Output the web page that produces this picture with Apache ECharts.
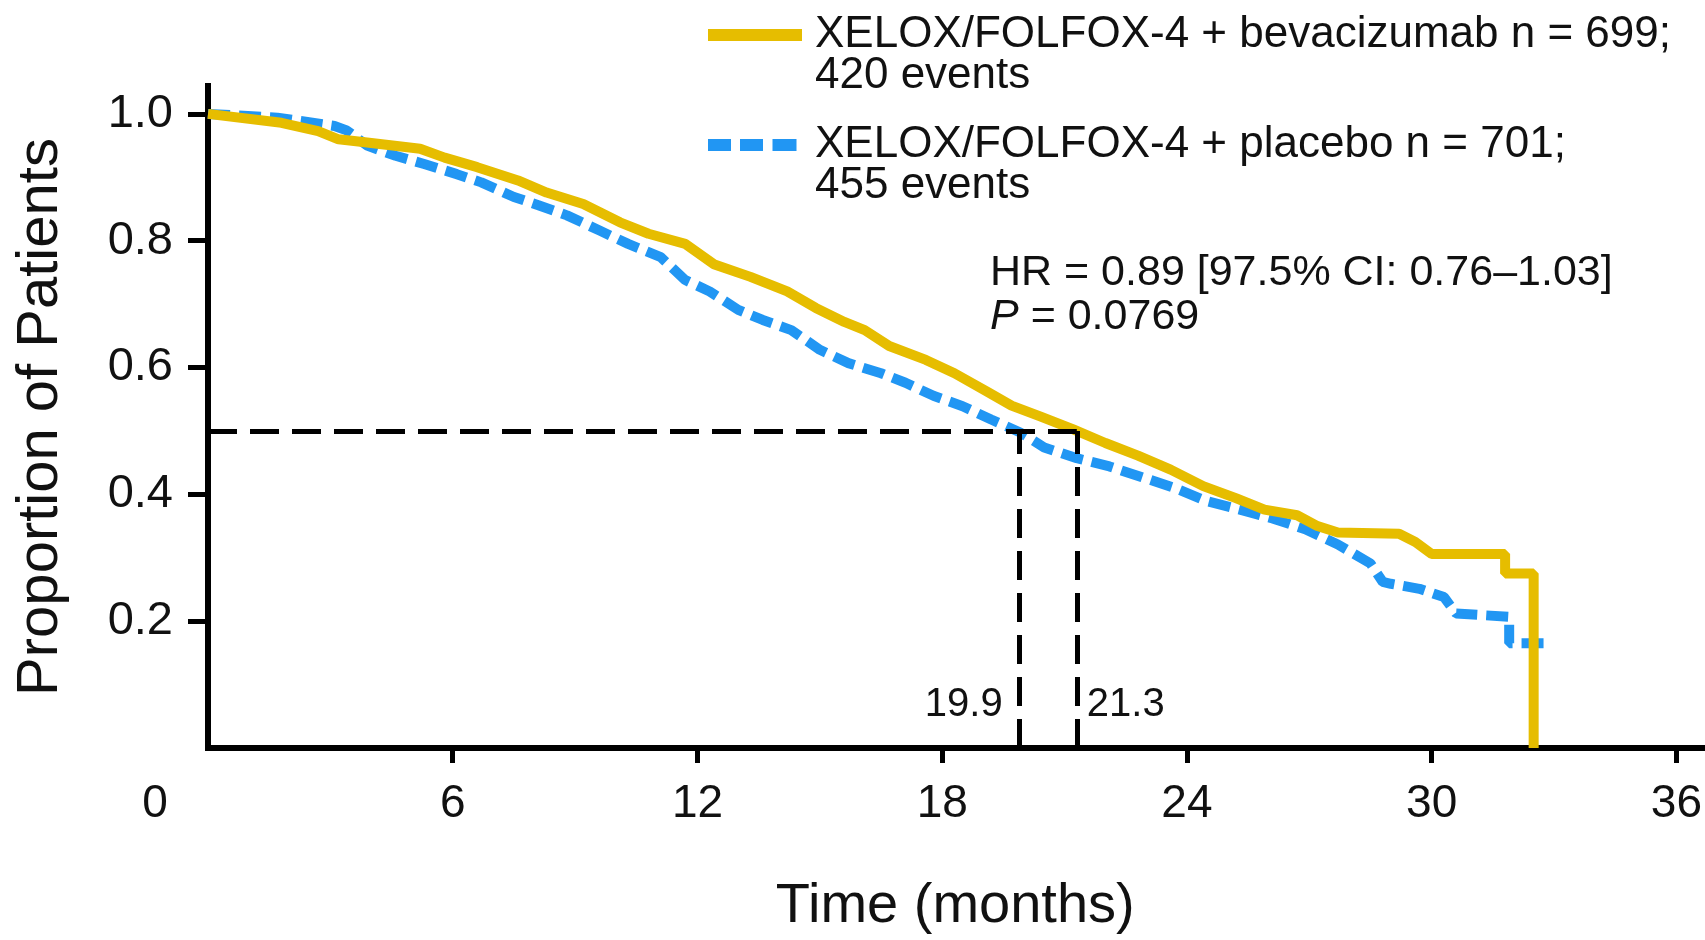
<!DOCTYPE html>
<html>
<head>
<meta charset="utf-8">
<title>XELOX/FOLFOX-4 + bevacizumab vs placebo</title>
<script src="https://cdn.jsdelivr.net/npm/echarts@6/dist/echarts.min.js"></script>
<style>
  html, body { margin: 0; padding: 0; background: #fff; }
  #chart { width: 1705px; height: 940px; }
</style>
</head>
<body>
<div id="chart"></div>
<script>
// values (months, proportion)
const seriesNames = ['XELOX/FOLFOX-4 + bevacizumab n = 699;', 'XELOX/FOLFOX-4 + placebo n = 701;'];
const seriesEvents = ['420 events', '455 events'];

const bevaTime = [0, 1.8, 2.7, 3.2, 3.9, 5.2, 5.8, 6.6, 7.6, 8.3, 9.2, 10.1, 10.8, 11.7, 12.4, 13.3, 14.2, 14.9, 15.6, 16.1,
  16.7, 17.6, 18.3, 19.1, 19.7, 20.4, 21.2, 22.0, 22.8, 23.6, 24.4, 25.2, 25.9, 26.7, 27.2, 27.7, 29.2, 29.6, 30.0,
  31.8, 31.8, 32.5, 32.5];
const bevaSurv = [1.0, 0.986, 0.973, 0.960, 0.955, 0.945, 0.931, 0.916, 0.895, 0.876, 0.858, 0.829, 0.811, 0.795, 0.763, 0.743, 0.720, 0.694, 0.672, 0.659,
  0.634, 0.612, 0.591, 0.562, 0.540, 0.523, 0.503, 0.481, 0.461, 0.439, 0.413, 0.394, 0.376, 0.367, 0.350, 0.340, 0.338, 0.325, 0.306,
  0.306, 0.275, 0.275, 0];

const placeboTime = [0, 1.7, 3.1, 3.4, 3.9, 4.6, 5.3, 6.1, 6.7, 7.5, 8.1, 8.8, 9.6, 10.3, 11.1, 11.7, 12.3, 13.0, 13.6, 14.3,
  15.0, 15.7, 16.5, 17.1, 17.8, 18.5, 19.2, 19.9, 20.5, 21.3, 22.1, 22.9, 23.7, 24.5, 25.3, 26.1, 26.9, 27.7, 28.5, 28.8,
  29.0, 29.7, 30.3, 30.6, 31.9, 31.9, 32.85];
const placeboSurv = [1.0, 0.994, 0.981, 0.974, 0.950, 0.934, 0.921, 0.905, 0.892, 0.869, 0.856, 0.840, 0.816, 0.795, 0.774, 0.738, 0.720, 0.691, 0.675, 0.659,
  0.628, 0.607, 0.591, 0.576, 0.555, 0.539, 0.518, 0.498, 0.474, 0.457, 0.444, 0.427, 0.410, 0.389, 0.376, 0.362, 0.345, 0.321, 0.291, 0.262,
  0.259, 0.251, 0.238, 0.212, 0.207, 0.165, 0.165];

const xTicks = [0, 6, 12, 18, 24, 30, 36];
const yTicks = [0.2, 0.4, 0.6, 0.8, 1.0];

const medianTimes = [19.9, 21.3];
const medianLabels = ['19.9', '21.3'];
const medianLevel = 0.5;

const hrLine = 'HR = 0.89 [97.5% CI: 0.76–1.03]';
const pLine = ' = 0.0769';

const FONT = '"Liberation Sans", Arial, Helvetica, sans-serif';
const YELLOW = '#E6BD00';
const BLUE = '#2196F3';

const bevaData = bevaTime.map((t, i) => [t, bevaSurv[i]]);
const placeboData = placeboTime.map((t, i) => [t, placeboSurv[i]]);

// legend icons: line sits on the first text row
const solidIcon = 'path://M0,0h0.01v0.01h-0.01z M0,14.5h94v12h-94z M94,82h-0.01v-0.01h0.01z';
const dashIcon = 'path://M0,0h0.01v0.01h-0.01z M0,14.5h23v12h-23z M32,14.5h23v12h-23z M64.5,14.5h24v12h-24z M94,82h-0.01v-0.01h0.01z';

const chart = echarts.init(document.getElementById('chart'));

chart.setOption({
  animation: false,
  backgroundColor: '#fff',
  grid: { left: 208, right: 0, top: 86, bottom: 188 },
  title: {
    left: 990, top: 251, padding: 0,
    text: '{n|' + hrLine + '}\n{i|P}{n|' + pLine + '}',
    textStyle: {
      fontWeight: 'normal',
      rich: {
        n: { fontSize: 43, lineHeight: 44, fontFamily: FONT, fontWeight: 'normal', color: '#111' },
        i: { fontSize: 43, lineHeight: 44, fontFamily: FONT, fontWeight: 'normal', color: '#111', fontStyle: 'italic' }
      }
    }
  },
  legend: {
    orient: 'vertical', left: 708, top: 13, padding: 0, itemGap: 25,
    itemWidth: 94, itemHeight: 82, selectedMode: false, symbolKeepAspect: false,
    data: [{ name: seriesNames[0], icon: solidIcon }, { name: seriesNames[1], icon: dashIcon }],
    itemStyle: { borderWidth: 0 },
    formatter: name => name + '\n' + seriesEvents[seriesNames.indexOf(name)],
    textStyle: { fontSize: 44, lineHeight: 41, fontFamily: FONT, color: '#111', padding: [0, 0, 0, 8] }
  },
  xAxis: {
    type: 'value', min: 0, max: 36.64,
    splitLine: { show: false },
    axisLine: { show: true, lineStyle: { color: '#000', width: 6, cap: 'square' } },
    axisTick: { show: true, length: 15, customValues: xTicks.filter(v => v > 0), lineStyle: { color: '#000', width: 5 } },
    axisLabel: {
      customValues: xTicks, margin: 33, fontSize: 46, fontFamily: FONT, color: '#111',
      formatter: v => (v === 0 ? '{z|0}' : String(v)),
      rich: { z: { fontSize: 46, fontFamily: FONT, color: '#111', padding: [0, 106, 0, 0] } }
    },
    name: 'Time (months)', nameLocation: 'middle', nameGap: 131,
    nameTextStyle: { fontSize: 56, fontFamily: FONT, color: '#111' }
  },
  yAxis: {
    type: 'value', min: 0, max: 1.044,
    splitLine: { show: false },
    axisLine: { show: true, lineStyle: { color: '#000', width: 6, cap: 'square' } },
    axisTick: { show: true, length: 20, customValues: yTicks, lineStyle: { color: '#000', width: 5 } },
    axisLabel: {
      customValues: yTicks, margin: 35, fontSize: 47, fontFamily: FONT, color: '#111',
      formatter: v => v.toFixed(1)
    },
    name: 'Proportion of Patients', nameLocation: 'middle', nameRotate: 90, nameGap: 138,
    nameTextStyle: { fontSize: 58, fontFamily: FONT, color: '#111' }
  },
  series: [
    {
      name: seriesNames[1], type: 'line', data: placeboData, symbol: 'none', z: 2,
      itemStyle: { color: BLUE },
      lineStyle: { color: BLUE, width: 10, type: [22, 9], cap: 'butt' }
    },
    {
      name: seriesNames[0], type: 'line', data: bevaData, symbol: 'none', z: 3,
      itemStyle: { color: YELLOW },
      lineStyle: { color: YELLOW, width: 10 },
      markLine: {
        silent: true, symbol: ['none', 'none'], label: { show: false },
        lineStyle: { color: '#000', width: 5, type: [29, 13] },
        data: [
          [{ coord: [0, medianLevel] }, { coord: [Math.max(...medianTimes), medianLevel] }],
          [{ coord: [medianTimes[0], 0] }, { coord: [medianTimes[0], medianLevel] }],
          [{ coord: [medianTimes[1], 0] }, { coord: [medianTimes[1], medianLevel] }]
        ]
      }
    },
    {
      type: 'scatter', symbolSize: 0, silent: true,
      itemStyle: { opacity: 1 },
      data: medianTimes.map((t, i) => ({
        value: [t, 0.068],
        label: { position: i === 0 ? 'left' : 'right', distance: i === 0 ? 17 : 10 }
      })),
      label: {
        show: true, fontSize: 40, fontFamily: FONT, color: '#111', opacity: 1,
        formatter: p => medianLabels[p.dataIndex]
      }
    }
  ]
});
</script>
</body>
</html>
